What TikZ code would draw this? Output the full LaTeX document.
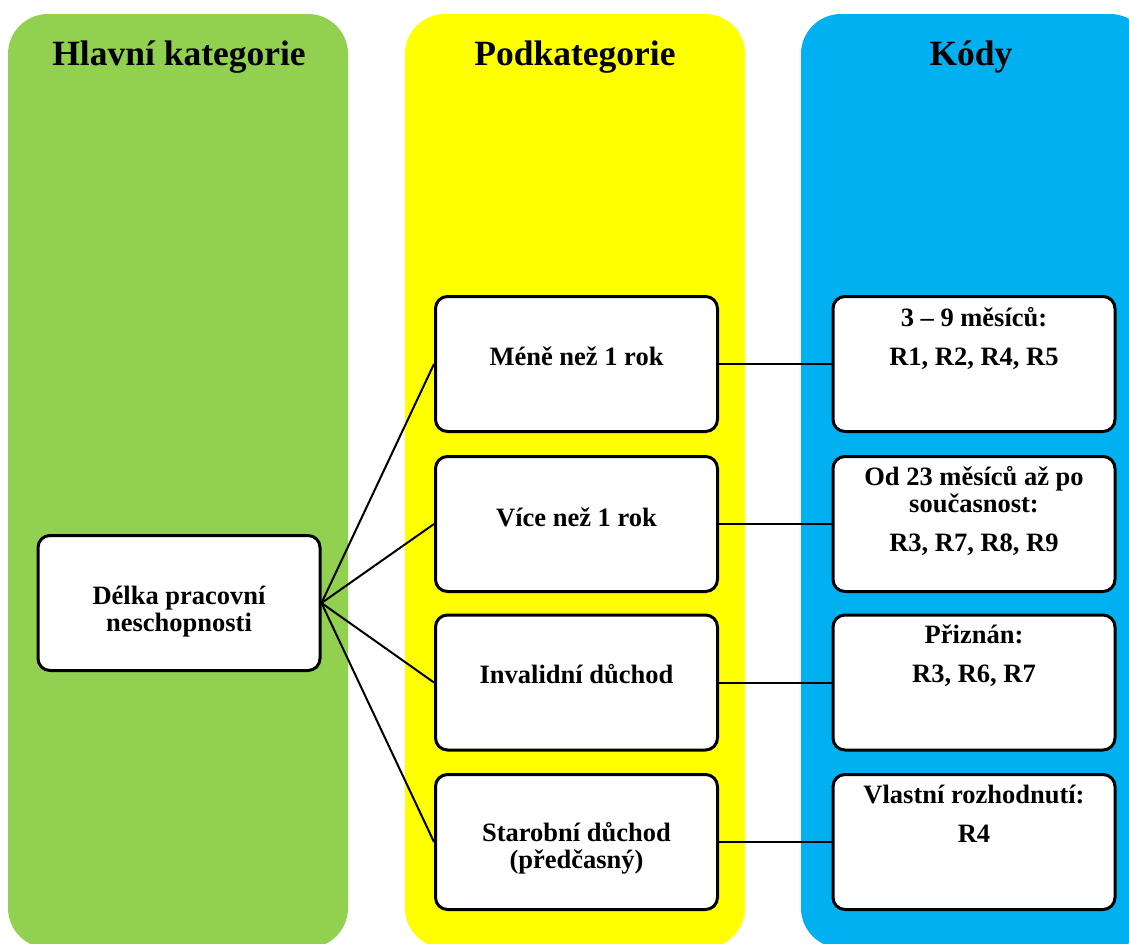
\documentclass[tikz,border=0pt]{standalone}
\usepackage{fontspec}
\setmainfont{Liberation Serif}
\definecolor{colgreen}{HTML}{92D050}
\definecolor{colyellow}{HTML}{FFFF00}
\definecolor{colblue}{HTML}{00B0F0}
\begin{document}
\begin{tikzpicture}[x=1pt,y=-1pt,
  column/.style={rounded corners=40pt},
  head/.style={font=\fontsize{35.5}{40}\selectfont\bfseries, inner sep=0pt, anchor=base},
  box/.style={draw, line width=3pt, rounded corners=12pt, fill=white,
    minimum width=282pt, minimum height=135pt, inner sep=0pt},
  txt/.style={font=\fontsize{26.5}{27}\selectfont\bfseries, align=center, inner sep=0pt},
  conn/.style={line width=2pt}
]
\useasboundingbox (0,0) rectangle (1129,943);
% columns
\fill[colgreen, column] (8,14) rectangle (348,948);
\fill[colyellow, column] (405,14) rectangle (745,948);
\fill[colblue, column] (801,14) rectangle (1150,948);
% headers
\node[head] (h1) at (179,65) {Hlavní kategorie};
\node[head] (h2) at (575,65) {Podkategorie};
\node[head] (h3) at (971,65) {Kódy};
% main box
\node[box] (main) at (179,603) {};
\node[txt] (maint) at (179,612) {Délka pracovní\\neschopnosti};
% middle boxes
\node[box] (m1) at (576.5,364) {};
\node[box] (m2) at (576.5,524) {};
\node[box] (m3) at (576.5,682.5) {};
\node[box] (m4) at (576.5,842) {};
\node[txt] (m1t) at (576.5,356) {Méně než 1 rok};
\node[txt] (m2t) at (576.5,517) {Více než 1 rok};
\node[txt] (m3t) at (576.5,674) {Invalidní důchod};
\node[txt] (m4t) at (576.5,848) {Starobní důchod\\(předčasný)};
% right boxes
\node[box] (r1) at (974,364) {};
\node[box] (r2) at (974,524) {};
\node[box] (r3) at (974,682.5) {};
\node[box] (r4) at (974,842) {};
\node[txt, anchor=north] (r1t) at (974,307) {3 – 9 měsíců:\\[12pt]R1, R2, R4, R5};
\node[txt, anchor=north] (r2t) at (974,466) {Od 23 měsíců až po\\současnost:\\[12pt]R3, R7, R8, R9};
\node[txt, anchor=north] (r3t) at (974,625) {Přiznán:\\[12pt]R3, R6, R7};
\node[txt, anchor=north] (r4t) at (974,785) {Vlastní rozhodnutí:\\[12pt]R4};
% connectors
\foreach \m in {m1,m2,m3,m4}{
  \draw[conn] (main.east) -- (\m.west);
}
\draw[conn] (m1.east) -- (r1.west);
\draw[conn] (m2.east) -- (r2.west);
\draw[conn] (m3.east) -- (r3.west);
\draw[conn] (m4.east) -- (r4.west);
\end{tikzpicture}
\end{document}
